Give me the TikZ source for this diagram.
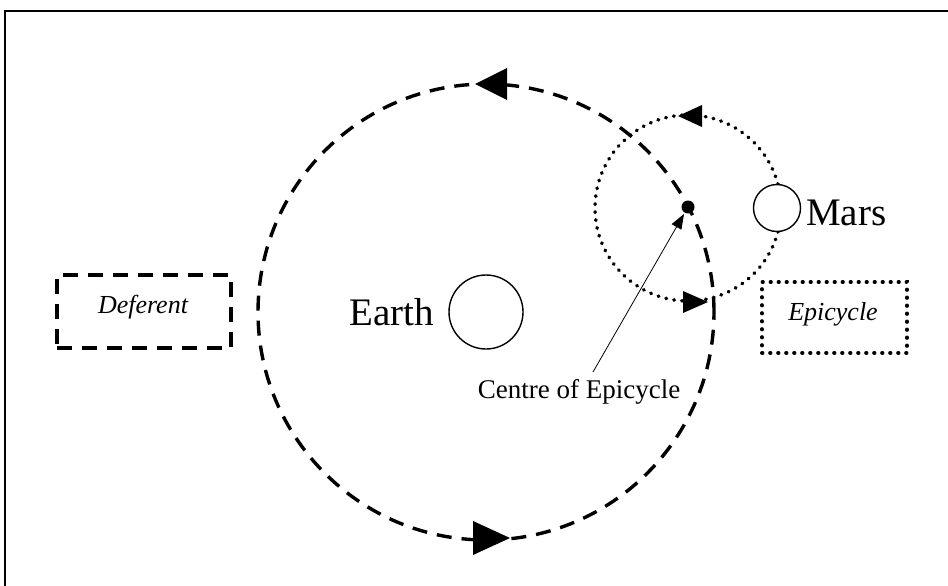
\documentclass[tikz,border=0pt]{standalone}
\usepackage{fontspec}
\setmainfont{Liberation Serif}
\usetikzlibrary{arrows.meta}
\tikzset{
  orbitdash/.style={line width=3.4pt, dash pattern=on 15pt off 10pt},
  orbitdot/.style={line width=3.6pt, line cap=round, dash pattern=on 0.6pt off 7.4pt},
  planet/.style={circle, draw, line width=1.4pt, fill=white, inner sep=0pt},
  headtri/.style={fill=black},
  bigtxt/.style={inner sep=0pt, font=\fontsize{39}{39}\selectfont},
  boxtxt/.style={inner sep=0pt, font=\fontsize{26}{26}\selectfont\itshape},
  smalltxt/.style={inner sep=0pt, font=\fontsize{27}{27}\selectfont},
}
\begin{document}
\begin{tikzpicture}[x=1pt,y=-1pt]
\useasboundingbox (0,0) rectangle (948,586);
% frame (partly cropped)
\draw[line width=2pt] (5,586) -- (5,11) -- (948,11);
% deferent
\draw[orbitdash] (486,312) circle[radius=228pt];
\fill[headtri] (475,84) -- (507,68) -- (507,100) -- cycle;
\fill[headtri] (510,538) -- (473,521) -- (473,555) -- cycle;
% epicycle
\draw[orbitdot] (688,208) circle[radius=93pt];
\fill[headtri] (678,116) -- (702,105) -- (702,127) -- cycle;
\fill[headtri] (708,302) -- (683,291) -- (683,313) -- cycle;
% bodies
\node[planet, minimum size=74pt] (earth) at (486,312) {};
\node[planet, minimum size=47pt] (mars) at (777,208) {};
\node[circle, fill=black, minimum size=13pt, inner sep=0pt] (centre) at (688,207) {};
% labels
\node[bigtxt, anchor=base] (earthlbl) at (392,325) {Earth};
\node[bigtxt, anchor=base west] (marslbl) at (806,225) {Mars};
\node[smalltxt, anchor=base] (centrelbl) at (579,398) {Centre of Epicycle};
% boxes
\node[draw, orbitdash, minimum width=174pt, minimum height=73pt, inner sep=0pt] (defbox) at (144,311.5) {};
\node[boxtxt, anchor=base] (deflbl) at (143,313) {Deferent};
\node[draw, orbitdot, minimum width=145pt, minimum height=71pt, inner sep=0pt] (epibox) at (834.5,317.5) {};
\node[boxtxt, anchor=base] (epilbl) at (833,320) {Epicycle};
% pointer
\coordinate (cstart) at (593,372);
\draw[line width=0.8pt, -{Triangle[length=15pt,width=11pt]}, shorten >=8pt] (cstart) -- (centre.center);
\end{tikzpicture}
\end{document}
